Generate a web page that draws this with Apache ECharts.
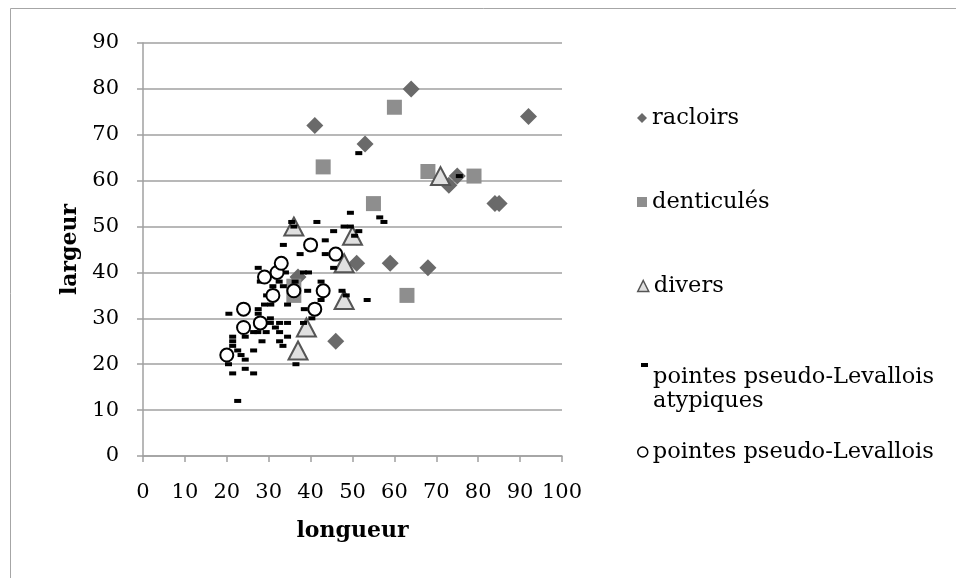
<!DOCTYPE html>
<html>
<head>
<meta charset="utf-8">
<script src="https://cdn.jsdelivr.net/npm/echarts@6/dist/echarts.min.js"></script>
<style>html,body{margin:0;padding:0;background:#fff;}#c{width:956px;height:578px;}</style>
</head>
<body>
<div id="c"></div>
<script>
// ---- data (longueur, largeur) ----
const seriesNames = ['racloirs', 'denticulés', 'divers', 'pointes pseudo-Levallois atypiques', 'pointes pseudo-Levallois'];
const racloirs = [[64,80],[92,74],[41,72],[53,68],[75,61],[73,59],[84,55],[85,55],[51,42],[59,42],[68,41],[46,25],[37,39]];
const denticules = [[60,76],[43,63],[68,62],[79,61],[55,55],[63,35],[36,35],[36,37]];
const divers = [[71,61],[36,50],[50,48],[48,42],[48,34],[39,28],[37,23]];
const atypiques = [[51.5,66],[75.5,61],[49.5,53],[56.5,52],[57.5,51],[41.5,51],[35.5,51],[36,50],[48,50],[49.5,50],
  [45.5,49],[51.5,49],[50.5,48],[43.5,47],[33.5,46],[40.5,45],[37.5,44],[43.5,44],[45.5,41],[27.5,41],
  [39.5,40],[38.3,40],[32.5,38],[33.5,37],[36.3,38],[42.5,38],[36.5,36],[39.3,36],[47.5,36],[48.5,35],
  [53.5,34],[29.5,35],[30.5,33],[29,33],[34.5,33],[38.5,32],[42.5,34],[20.5,31],[27.5,32],[27.5,31],
  [30.4,30],[30.4,29],[32.6,29],[34.5,29],[40.3,30],[38.3,29],[29.4,27],[27.4,27],[26.4,27],[31.6,28],
  [32.6,27],[34.5,26],[24.4,26],[21.4,26],[21.4,25],[21.4,24],[28.4,25],[32.6,25],[33.4,24],[26.4,23],
  [22.6,23],[23.4,22],[24.4,21],[20.4,20],[21.4,18],[24.4,19],[26.4,18],[22.6,12],[36.5,20],[34,40],
  [31,37],[28,38]];
const pointes = [[20,22],[24,32],[24,28],[28,29],[29,39],[31,35],[32,40],[33,42],[36,36],[40,46],[43,36],[41,32],[46,44]];
const xTicks = [0,100,10];
const yTicks = [0,90,10];

const FONT = 'DejaVu Serif';
const chart = echarts.init(document.getElementById('c'), null, {renderer:'canvas'});

function legendBox(name, top, icon, w, h, style, extra) {
  return Object.assign({
    show: true, left: 632, top: top, orient: 'vertical',
    itemWidth: w, itemHeight: h, itemGap: 0, selectedMode: false,
    textStyle: {fontFamily: FONT, fontSize: 22.5, color: '#000', lineHeight: 24},
    data: [{name: name, icon: icon, itemStyle: style}]
  }, extra || {});
}

chart.setOption({
  animation: false,
  backgroundColor: '#fff',
  graphic: [{type:'rect', shape:{x:10.5, y:8.5, width:1000, height:1000}, style:{fill:'none', stroke:'#a6a6a6', lineWidth:1}, silent:true}],
  grid: {left: 143, top: 43, right: 394, bottom: 122, containLabel: false},
  legend: [
    legendBox(seriesNames[0], 101, 'diamond', 10, 10, {color:'#6a6a6a', borderWidth:0}),
    legendBox(seriesNames[1], 185, 'rect', 10, 10, {color:'#8e8e8e', borderWidth:0}),
    legendBox(seriesNames[2], 269, 'triangle', 11, 11, {color:'#e0e0e0', borderColor:'#555', borderWidth:1.5}),
    legendBox(seriesNames[3], 312, 'rect', 7, 4, {color:'#000', borderWidth:0},
      {left: 636, formatter: function(){return '\n\npointes pseudo-Levallois\natypiques';}}),
    legendBox(seriesNames[4], 435, 'circle', 10, 10, {color:'#fff', borderColor:'#000', borderWidth:1.5})
  ],
  xAxis: {
    type: 'value', min: xTicks[0], max: xTicks[1], interval: xTicks[2],
    name: 'longueur', nameLocation: 'middle', nameGap: 64,
    nameTextStyle: {fontFamily: FONT, fontSize: 22, fontWeight: 'bold', color: '#000'},
    axisLine: {show: true, onZero: false, lineStyle: {color: '#a0a0a0', width: 1.5}},
    axisTick: {show: true, length: 6, lineStyle: {color: '#a0a0a0', width: 1.5}},
    axisLabel: {fontFamily: FONT, fontSize: 21, color: '#000', margin: 26},
    splitLine: {show: false}
  },
  yAxis: {
    type: 'value', min: yTicks[0], max: yTicks[1], interval: yTicks[2],
    name: 'largeur', nameLocation: 'middle', nameGap: 62, nameRotate: 90,
    nameTextStyle: {fontFamily: FONT, fontSize: 22, fontWeight: 'bold', color: '#000'},
    axisLine: {show: true, onZero: false, lineStyle: {color: '#a0a0a0', width: 1.5}},
    axisTick: {show: true, length: 6, lineStyle: {color: '#a0a0a0', width: 1.5}},
    axisLabel: {fontFamily: FONT, fontSize: 21, color: '#000', margin: 24},
    splitLine: {show: true, lineStyle: {color: '#a0a0a0', width: 1.5}}
  },
  series: [
    {name: seriesNames[0], type: 'scatter', data: racloirs, symbol: 'diamond', symbolSize: 17,
     itemStyle: {color: '#6a6a6a', opacity: 1}},
    {name: seriesNames[1], type: 'scatter', data: denticules, symbol: 'rect', symbolSize: 15,
     itemStyle: {color: '#8e8e8e', opacity: 1}},
    {name: seriesNames[2], type: 'scatter', data: divers, symbol: 'triangle', symbolSize: [19,18],
     itemStyle: {color: '#e0e0e0', borderColor: '#555', borderWidth: 2, opacity: 1}},
    {name: seriesNames[3], type: 'scatter', data: atypiques, symbol: 'rect', symbolSize: [7,4],
     itemStyle: {color: '#000', opacity: 1}},
    {name: seriesNames[4], type: 'scatter', data: pointes, symbol: 'circle', symbolSize: 13,
     itemStyle: {color: '#fff', borderColor: '#000', borderWidth: 2, opacity: 1}}
  ]
});
</script>
</body>
</html>
